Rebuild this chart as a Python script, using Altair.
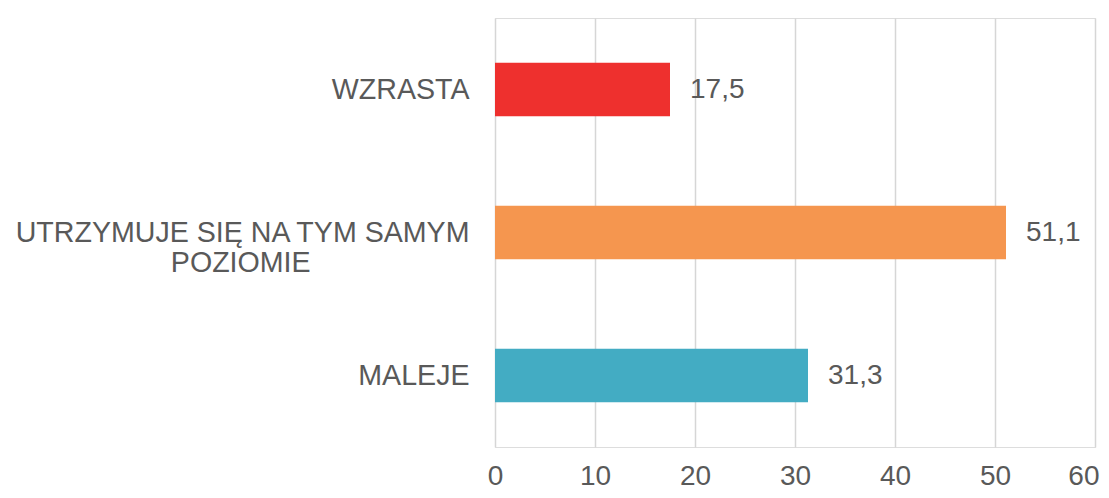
import altair as alt
import pandas as pd

categories = ["WZRASTA", "UTRZYMUJE SIĘ NA TYM SAMYM POZIOMIE", "MALEJE"]
values = [17.5, 51.1, 31.3]
colors = ["#EE302E", "#F5964F", "#43ACC3"]
x_ticks = [0, 10, 20, 30, 40, 50, 60]

# two-line label for the long category, second line centred under the first
NBSP = "\u00a0"
ZWSP = "\u200b"
label_lines = {
    "UTRZYMUJE SIĘ NA TYM SAMYM POZIOMIE": ["UTRZYMUJE SIĘ NA TYM SAMYM", "POZIOMIE" + NBSP * 20 + ZWSP],
}

df = pd.DataFrame({"cat": categories, "val": values})
df["lbl"] = [f"{v:.1f}".replace(".", ",") for v in values]

expr = "datum.value"
for k, lines in label_lines.items():
    arr = "[" + ",".join("'" + l + "'" for l in lines) + "]"
    expr = f"datum.value == '{k}' ? {arr} : {expr}"

FONT = "Liberation Sans"
TXT = "#595959"
last_tick = f"datum.value == {x_ticks[-1]}"

y_enc = alt.Y(
    "cat:N",
    sort=categories,
    title=None,
    scale=alt.Scale(paddingInner=0.625, paddingOuter=0.3125),
    axis=alt.Axis(
        domain=False, ticks=False, grid=False,
        labelFont=FONT, labelFontSize=28.6, labelColor=TXT,
        labelPadding=26, labelLimit=0, labelLineHeight=30,
        labelExpr=expr, minExtent=487, maxExtent=487,
    ),
)
x_enc = alt.X(
    "val:Q",
    title=None,
    scale=alt.Scale(domain=[0, 60], nice=False, zero=True),
    axis=alt.Axis(
        values=x_ticks, domain=False, ticks=False, grid=True,
        gridColor="#D6D6D6", gridWidth=1.5,
        labelFont=FONT, labelFontSize=28, labelColor=TXT,
        labelPadding=15, labelFlush=False, labelOverlap=False,
        labelAlign={"condition": {"test": last_tick, "value": "right"}, "value": "center"},
        labelOffset={"condition": {"test": last_tick, "value": 4}, "value": 0},
    ),
)

bars = alt.Chart(df).mark_bar(stroke=None).encode(
    x=x_enc,
    y=y_enc,
    color=alt.Color("cat:N", scale=alt.Scale(domain=categories, range=colors), legend=None),
)

texts = alt.Chart(df).mark_text(
    align="left", baseline="middle", dx=20, font=FONT, fontSize=28, color=TXT
).encode(
    x=alt.X("val:Q"),
    y=alt.Y("cat:N", sort=categories),
    text="lbl:N",
)

chart = alt.layer(bars, texts).properties(
    width=600,
    height=429,
    autosize=alt.AutoSizeParams(type="none"),
    padding={"left": 487, "top": 10, "right": 6, "bottom": 43},
).configure_view(stroke=None).configure(background="white")

chart.save("out.html", embed_options={"renderer": "svg", "actions": False})
